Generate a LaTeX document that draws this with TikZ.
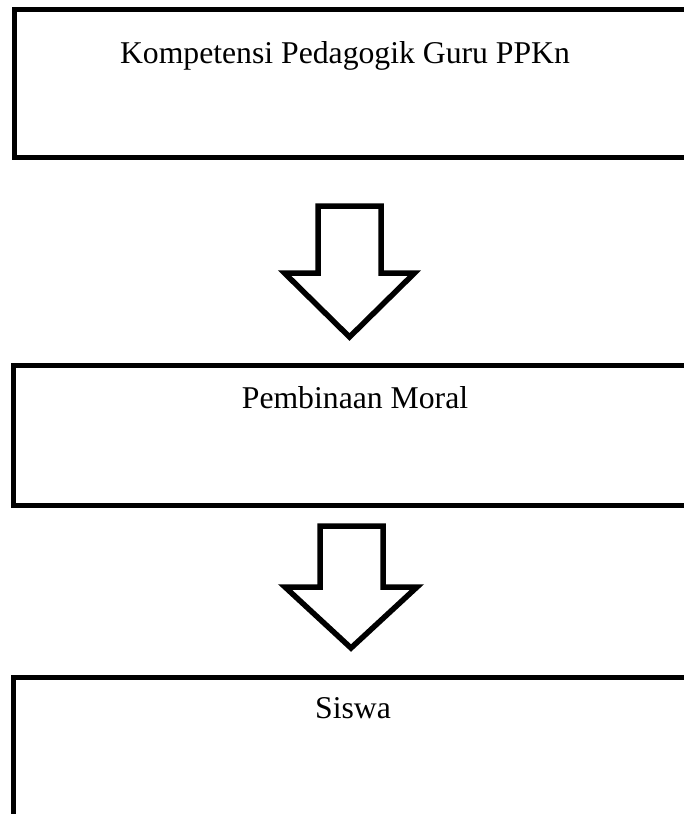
\documentclass[tikz,border=0pt]{standalone}
\usepackage{fontspec}
\setmainfont{Liberation Serif}
\begin{document}
\begin{tikzpicture}[x=1pt,y=-1pt,
  box/.style={draw=black,line width=5pt,fill=none,rectangle,inner sep=0pt,outer sep=0pt},
  lbl/.style={font=\fontsize{31.7}{36}\selectfont,inner sep=0pt,anchor=base},
  blockarrow/.style={draw=black,line width=5.5pt,line join=miter,fill=white}]
\useasboundingbox (0,0) rectangle (684,814);
\clip (0,0) rectangle (684,814);
% boxes
\node[box,anchor=north west,minimum width=672pt,minimum height=148pt] (b1) at (14.5,9.5) {};
\node[box,anchor=north west,minimum width=673pt,minimum height=140pt] (b2) at (13,365) {};
\node[box,anchor=north west,minimum width=673pt,minimum height=160pt] (b3) at (13.5,677) {};
% labels
\node[lbl] (t1) at (345,63) {Kompetensi Pedagogik Guru PPKn};
\node[lbl] (t2) at (355,408) {Pembinaan Moral};
\node[lbl] (t3) at (353,718) {Siswa};
% block arrows
\draw[blockarrow] (318,206) -- (381,206) -- (381,273) -- (414.5,273) -- (349.5,337) -- (284.5,273) -- (318,273) -- cycle;
\draw[blockarrow] (320,526) -- (383,526) -- (383,587) -- (417,587) -- (351,648) -- (285,587) -- (320,587) -- cycle;
\end{tikzpicture}
\end{document}
